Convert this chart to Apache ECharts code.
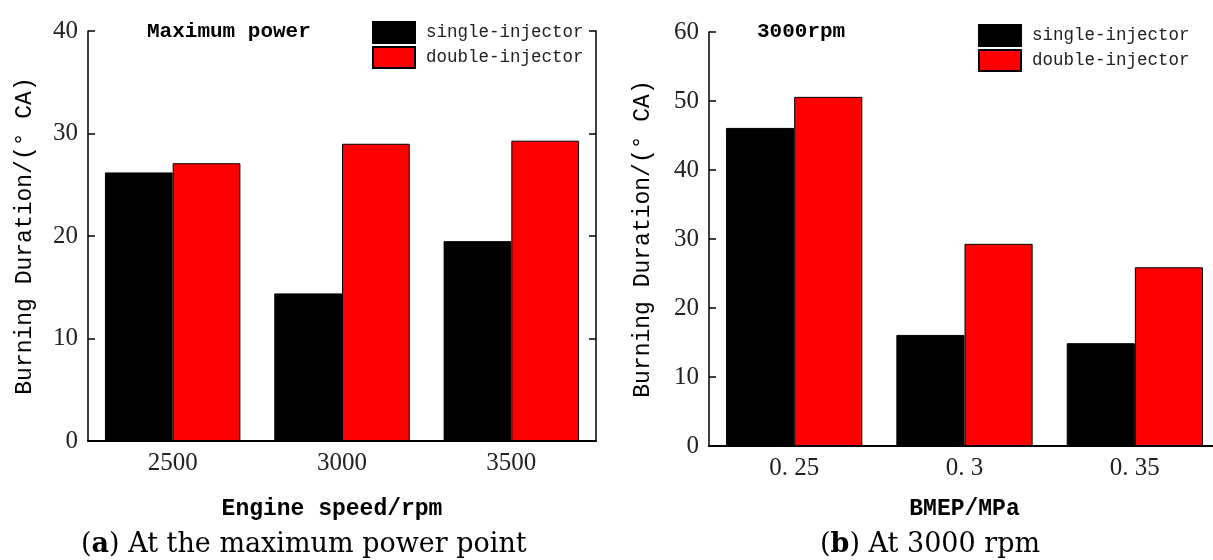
<!DOCTYPE html>
<html>
<head>
<meta charset="utf-8">
<script src="https://cdn.jsdelivr.net/npm/echarts@6/dist/echarts.min.js"></script>
<style>
  html, body { margin: 0; padding: 0; background: #fff; }
  #chart { width: 1213px; height: 560px; }
</style>
</head>
<body>
<div id="chart"></div>
<script>
// (a) maximum power point
const speedCats = ["2500", "3000", "3500"];
const speedSingle = [26.2, 14.4, 19.5];
const speedDouble = [27.1, 29.0, 29.3];

// (b) 3000 rpm
const bmepCats = ["0. 25", "0. 3", "0. 35"];
const bmepSingle = [46.1, 16.1, 14.9];
const bmepDouble = [50.6, 29.3, 25.9];

const seriesNames = ["single-injector", "double-injector"];

const mono = "Liberation Mono";
const serif = "Liberation Serif";

function yAxisPair(gridIndex, max, nameGap) {
  const common = {
    type: "value",
    gridIndex: gridIndex,
    min: 0,
    max: max,
    interval: 10,
    splitLine: { show: false },
    axisLine: { show: true, lineStyle: { color: "#000", width: 1.5 } },
    axisTick: { show: true, inside: true, length: 7, lineStyle: { color: "#000", width: 1.5 } }
  };
  return [
    {
      ...common,
      position: "left",
      name: "Burning Duration/(° CA)",
      nameLocation: "middle",
      nameGap: nameGap,
      nameTextStyle: { fontFamily: mono, fontSize: 23, color: "#000" },
      axisLabel: { fontFamily: serif, fontSize: 25, color: "#222", margin: 10 }
    },
    {
      ...common,
      position: "right",
      axisLabel: { show: false }
    }
  ];
}

function xAxis(gridIndex, data, name, nameGap, namePad) {
  return {
    type: "category",
    gridIndex: gridIndex,
    data: data,
    name: name,
    nameLocation: "middle",
    nameGap: nameGap,
    nameTextStyle: { fontFamily: mono, fontSize: 23, fontWeight: "bold", color: "#000", padding: namePad },
    axisLine: { show: true, lineStyle: { color: "#000", width: 2 } },
    axisTick: { show: false },
    axisLabel: { fontFamily: serif, fontSize: 25, color: "#222", margin: 10 }
  };
}

function barSeries(name, color, data, xi, yi) {
  return {
    name: name,
    type: "bar",
    data: data,
    xAxisIndex: xi,
    yAxisIndex: yi,
    barGap: "0%",
    barCategoryGap: "20%",
    itemStyle: { color: color, borderColor: "#000", borderWidth: 1 },
    emphasis: { disabled: true }
  };
}

function legend(left, top) {
  return {
    left: left,
    top: top,
    orient: "vertical",
    icon: "rect",
    itemWidth: 42,
    itemHeight: 21,
    itemGap: 2,
    selectedMode: false,
    data: seriesNames,
    textStyle: { fontFamily: mono, fontSize: 17.5, color: "#222", padding: [0, 0, 0, 6] }
  };
}

const option = {
  animation: false,
  title: [
    { text: "Maximum power", left: 142, top: 16,
      textStyle: { fontFamily: mono, fontSize: 21, fontWeight: "bold", color: "#000" } },
    { text: "3000rpm", left: 752, top: 16,
      textStyle: { fontFamily: mono, fontSize: 21, fontWeight: "bold", color: "#000" } }
  ],
  legend: [legend(367, 16), legend(973, 19)],
  grid: [
    { left: 88, top: 31, width: 508, height: 410, outerBoundsMode: "none" },
    { left: 709, top: 32, width: 511, height: 414, outerBoundsMode: "none" }
  ],
  xAxis: [
    xAxis(0, speedCats, "Engine speed/rpm", 57, [0, 20, 0, 0]),
    xAxis(1, bmepCats, "BMEP/MPa", 52, [0, 0, 0, 0])
  ],
  yAxis: [...yAxisPair(0, 40, 52), ...yAxisPair(1, 60, 55)],
  series: [
    barSeries(seriesNames[0], "#000", speedSingle, 0, 0),
    barSeries(seriesNames[1], "#ff0000", speedDouble, 0, 0),
    barSeries(seriesNames[0], "#000", bmepSingle, 1, 2),
    barSeries(seriesNames[1], "#ff0000", bmepDouble, 1, 2)
  ],
  graphic: [
    {
      type: "text", left: 81, top: 531,
      style: {
        text: "({b|a}) At the maximum power point",
        fontFamily: "DejaVu Serif", fontSize: 27, fill: "#000",
        rich: { b: { fontFamily: "DejaVu Serif", fontSize: 27, fontWeight: "bold" } }
      }
    },
    {
      type: "text", left: 820, top: 531,
      style: {
        text: "({b|b}) At 3000 rpm",
        fontFamily: "DejaVu Serif", fontSize: 27, fill: "#000",
        rich: { b: { fontFamily: "DejaVu Serif", fontSize: 27, fontWeight: "bold" } }
      }
    }
  ]
};

const chart = echarts.init(document.getElementById("chart"));
chart.setOption(option);
</script>
</body>
</html>
